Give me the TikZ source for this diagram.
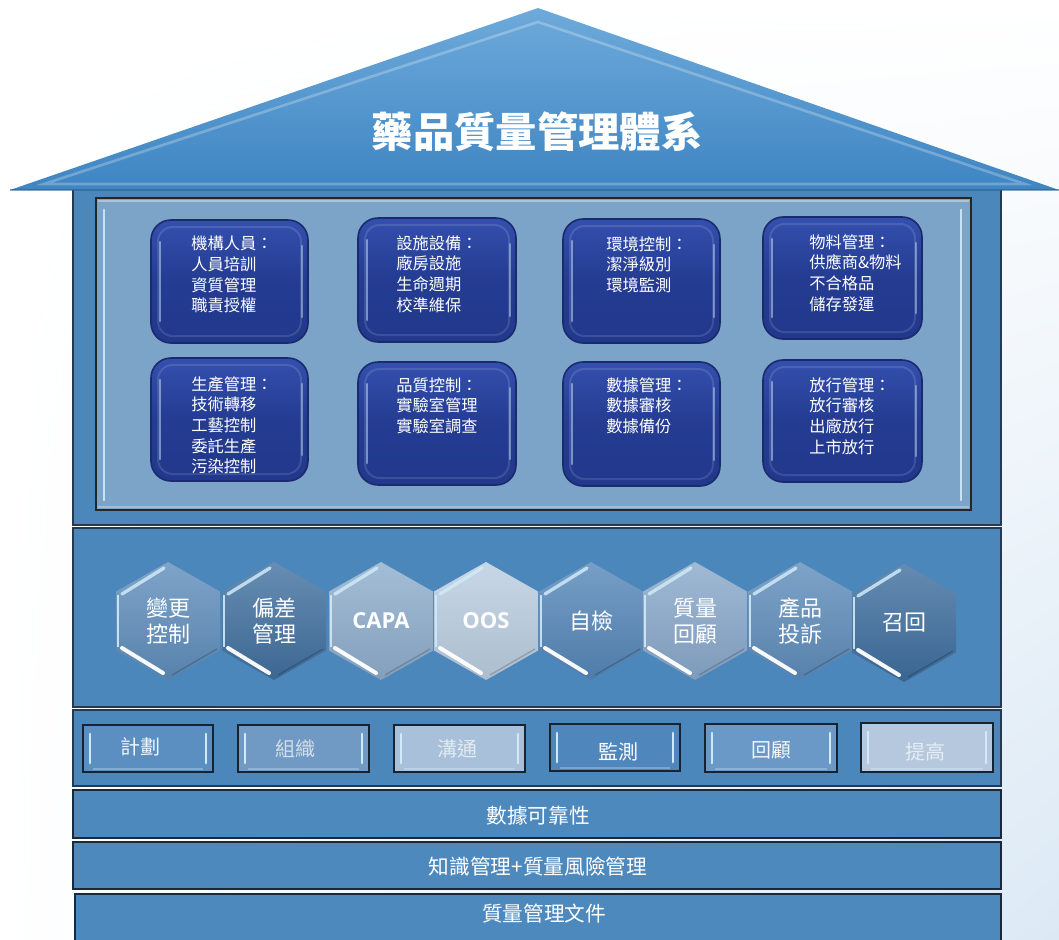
\documentclass[tikz,border=0pt]{standalone}
\usepackage{fontspec}
\usetikzlibrary{shadings}
\setmainfont{Noto Sans CJK TC}
\newfontfamily\latb{Open Sans}
\definecolor{bgB}{HTML}{DCE9F5}
\definecolor{roofT}{HTML}{6EAADB}
\definecolor{roofB}{HTML}{3E85C2}
\definecolor{bodyC}{HTML}{4C87BC}
\definecolor{panelC}{HTML}{7CA3C8}
\definecolor{dboxT}{HTML}{3450AE}
\definecolor{dboxB}{HTML}{21388C}
\definecolor{dboxE}{HTML}{1B2A6C}
\definecolor{edgeC}{HTML}{243A52}
\definecolor{hlC}{HTML}{CFEAF9}
\definecolor{hA}{HTML}{5F8DBB}
\definecolor{hB}{HTML}{41709F}
\definecolor{hC}{HTML}{8EADCC}
\definecolor{hD}{HTML}{BACDE0}
\definecolor{hE}{HTML}{5586B8}
\definecolor{hF}{HTML}{88A8CA}
\definecolor{hG}{HTML}{5E8CBA}
\definecolor{hH}{HTML}{3E6E9E}
\definecolor{bA}{HTML}{5B8FC1}
\definecolor{bB}{HTML}{7099C4}
\definecolor{bC}{HTML}{A8C0DA}
\definecolor{bD}{HTML}{4F87BC}
\definecolor{bE}{HTML}{6A98C7}
\definecolor{bF}{HTML}{B5C8DD}
\definecolor{tB}{HTML}{D2DEEA}
\definecolor{tC}{HTML}{E2EAF2}
\definecolor{tF}{HTML}{E6ECF3}
\definecolor{barC}{HTML}{4E89BE}

\newcommand{\darkbox}[4]{%
  \shade[rounded corners=15pt, top color=dboxT, bottom color=dboxB, middle color=dboxB!85!dboxT] (#1,#2) rectangle (#3,#4);
  \draw[rounded corners=15pt, dboxE, line width=1.2pt] (#1,#2) rectangle (#3,#4);
  \draw[rounded corners=11pt, white, opacity=0.12, line width=1.5pt] (#1+7,#2+7) rectangle (#3-7,#4-7);
  \draw[hlC, opacity=0.5, line width=2pt, line cap=round] (#1+9,#2+22) -- (#1+9,#4-22);
  \draw[hlC, opacity=0.45, line width=2pt, line cap=round] (#3-6,#2+26) -- (#3-6,#4-26);
}
\newcommand{\hexa}[5]{%
  \shade[top color=#3!80!white, bottom color=#3!92!black]
    (#1,#2-59) -- (#1+52,#2-29.5) -- (#1+52,#2+29.5) -- (#1,#2+59) -- (#1-52,#2+29.5) -- (#1-52,#2-29.5) -- cycle;
  \draw[hlC, opacity=0.85, line width=2.5pt, line cap=round] (#1-46,#2-27) -- (#1-4,#2-53);
  \draw[white, opacity=0.95, line width=3pt, line cap=round] (#1-46,#2+27) -- (#1-5,#2+52);
  \draw[hlC, opacity=0.9, line width=1.8pt] (#1-50,#2-26) -- (#1-50,#2+26);
  \draw[#3!60!black, opacity=0.5, line width=1pt] (#1+4,#2+54) -- (#1+49,#2+28);
  \node[hextxt] (#4) at (#1,#2) {#5};
}
\newcommand{\btn}[6]{%
  \fill[#5] (#1,#2) rectangle (#3,#4);
  \draw[edgeC!60!black, line width=1.3pt] (#1,#2) rectangle (#3,#4);
  \draw[hlC, line width=2.2pt, line cap=round] (#1+7,#2+9) -- (#1+7,#4-9);
  \draw[hlC, line width=2.2pt, line cap=round] (#3-7,#2+9) -- (#3-7,#4-9);
  \draw[white, opacity=0.25, line width=1.5pt] (#1+10,#4-3) -- (#3-10,#4-3);
}

\begin{document}
\begin{tikzpicture}[x=0.75pt,y=-0.75pt,
  titletxt/.style={text=white, font=\bfseries\fontsize{31}{36}\selectfont, inner sep=0},
  btxt/.style={text=white, align=left, font=\fontsize{12.2}{15.5}\selectfont, inner sep=0, anchor=north west},
  hextxt/.style={text=white, align=center, font=\fontsize{16.5}{19.5}\selectfont, inner sep=0},
  btntxt/.style={font=\fontsize{15}{18}\selectfont, inner sep=0},
  bartxt/.style={text=white, font=\fontsize{15.5}{18}\selectfont, inner sep=0},
  section/.style={fill=bodyC, draw=edgeC, line width=1pt}]
\useasboundingbox (0,0) rectangle (1059,939);
\shade[upper left=white, upper right=white, lower left=white, lower right=bgB] (0,0) rectangle (1059,939);

% house body
\draw[section] (73,186) rectangle (1001,525);
% roof
\coordinate (apex) at (538,8);
\coordinate (rl) at (10,190);
\coordinate (rr) at (1059,190);
\shade[top color=roofT, bottom color=roofB] (apex) -- (rr) -- (rl) -- cycle;
\draw[white, opacity=0.25, line width=2pt] (538,22) -- (1025,184) -- (44,184) -- cycle;
\draw[roofB!70!black, opacity=0.5, line width=1pt] (rl) -- (rr);
\node[titletxt] (title) at (537,132) {藥品質量管理體系};

% inner panel
\draw[fill=panelC, draw=black!85, line width=0.8pt] (96,198) rectangle (971,510);
\draw[white, opacity=0.35, line width=2pt] (98,201) -- (969,201);
\draw[hlC, opacity=0.9, line width=2.2pt, line cap=round] (104,210) -- (104,500);
\draw[hlC, opacity=0.9, line width=2.2pt, line cap=round] (961,210) -- (961,500);
\draw[white, opacity=0.3, line width=2pt] (98,507) -- (969,507);

% dark boxes, row 1
\darkbox{151}{220}{308}{343}
\node[btxt] (m1) at (191,236) {機構人員：\\人員培訓\\資質管理\\職責授權};
\darkbox{358}{218}{516}{342}
\node[btxt] (m2) at (396,235) {設施設備：\\廠房設施\\生命週期\\校準維保};
\darkbox{563}{219}{720}{343}
\node[btxt] (m3) at (606,236) {環境控制：\\潔淨級別\\環境監測};
\darkbox{763}{217}{922}{339}
\node[btxt] (m4) at (809,234) {物料管理：\\供應商\&物料\\不合格品\\儲存發運};
% row 2
\darkbox{151}{358}{308}{481}
\node[btxt] (m5) at (191,376) {生產管理：\\技術轉移\\工藝控制\\委託生產\\污染控制};
\darkbox{358}{362}{516}{485}
\node[btxt] (m6) at (396,377) {品質控制：\\實驗室管理\\實驗室調查};
\darkbox{563}{362}{720}{486}
\node[btxt] (m7) at (606,377) {數據管理：\\數據審核\\數據備份};
\darkbox{763}{360}{922}{482}
\node[btxt] (m8) at (809,377) {放行管理：\\放行審核\\出廠放行\\上市放行};

% hexagon band
\draw[section] (73,528) rectangle (1001,707);
\hexa{168}{621}{hA}{h1}{變更\\控制}
\hexa{274}{621}{hB}{h2}{偏差\\管理}
\hexa{381}{621}{hC}{h3}{\latb\bfseries CAPA}
\hexa{486}{621}{hD}{h4}{\latb\bfseries OOS}
\hexa{591}{621}{hE}{h5}{自檢}
\hexa{695}{621}{hF}{h6}{質量\\回顧}
\hexa{800}{621}{hG}{h7}{產品\\投訴}
\hexa{904}{623}{hH}{h8}{召回}

% PDCA buttons
\draw[section] (73,710) rectangle (1001,786);
\btn{83}{725}{213}{772}{bA}{}
\node[btntxt, text=white!92!bA] (p1) at (140,747) {計劃};
\btn{238}{725}{369}{772}{bB}{}
\node[btntxt, text=tB] (p2) at (295,749) {組織};
\btn{394}{725}{525}{772}{bC}{}
\node[btntxt, text=tC] (p3) at (457,749) {溝通};
\btn{550}{724}{680}{771}{bD}{}
\node[btntxt, text=white] (p4) at (618,752) {監測};
\btn{705}{724}{837}{772}{bE}{}
\node[btntxt, text=white!90!bE] (p5) at (771,750) {回顧};
\btn{861}{723}{993}{772}{bF}{}
\node[btntxt, text=tF] (p6) at (925,752) {提高};

% foundation bars
\draw[fill=barC, draw=edgeC!70!black, line width=1.2pt] (73,790) rectangle (1001,838);
\node[bartxt] (f1) at (538,816) {數據可靠性};
\draw[fill=barC, draw=edgeC!70!black, line width=1.2pt] (73,842) rectangle (1001,889);
\node[bartxt] (f2) at (538,867) {知識管理+質量風險管理};
\draw[fill=barC, draw=edgeC!70!black, line width=1.2pt] (75,894) rectangle (1001,945);
\node[bartxt] (f3) at (544,914) {質量管理文件};
\end{tikzpicture}
\end{document}
